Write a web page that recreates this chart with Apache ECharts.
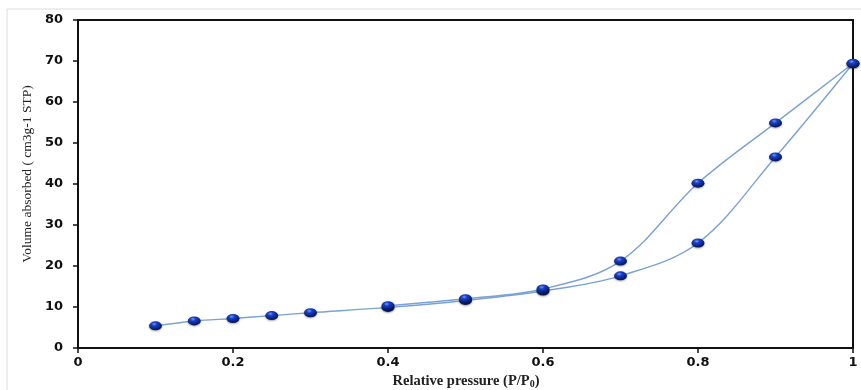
<!DOCTYPE html>
<html><head><meta charset="utf-8">
<script src="https://cdn.jsdelivr.net/npm/echarts@6/dist/echarts.min.js"></script>
<style>html,body{margin:0;padding:0;background:#fff}#c{width:861px;height:390px}</style>
</head><body><div id="c"></div>
<script>
const xTicks = [0, 0.2, 0.4, 0.6, 0.8, 1];
const yTicks = [0, 10, 20, 30, 40, 50, 60, 70, 80];
const adsorptionP = [0.1, 0.15, 0.2, 0.25, 0.3, 0.4, 0.5, 0.6, 0.7, 0.8, 0.9, 1.0];
const adsorptionV = [5.4, 6.6, 7.2, 7.9, 8.6, 9.9, 11.6, 13.9, 17.6, 25.6, 46.6, 69.4];
const desorptionP = [1.0, 0.9, 0.8, 0.7, 0.6, 0.5, 0.4];
const desorptionV = [69.4, 54.9, 40.2, 21.2, 14.4, 12.0, 10.3];
const xTitle = 'Relative pressure (P/P';
const yTitle = 'Volume absorbed ( cm3g-1 STP)';

const chart = echarts.init(document.getElementById('c'), null, {renderer: 'canvas'});
const markerColor = {
  type: 'radial', x: 0.4, y: 0.3, r: 0.7,
  colorStops: [{offset: 0, color: '#6f9cff'}, {offset: 0.3, color: '#1a3fc8'}, {offset: 1, color: '#041452'}]
};
function series(name, xs, ys) {
  return {
    name, type: 'line', smooth: 0.35,
    data: xs.map((x, i) => [x, ys[i]]),
    symbol: 'circle', symbolSize: [13, 9],
    itemStyle: {color: markerColor, borderWidth: 0, shadowColor: 'rgba(0,0,0,0.35)', shadowBlur: 2, shadowOffsetY: 1},
    lineStyle: {color: '#7aa2d4', width: 1.4},
    z: 3
  };
}
chart.setOption({
  animation: false,
  grid: {left: 78, right: 8, top: 20, bottom: 42, show: true, borderColor: '#111', borderWidth: 2, backgroundColor: 'transparent'},
  xAxis: {
    type: 'value', min: 0, max: 1, interval: 0.2,
    axisLine: {show: true, lineStyle: {color: '#111', width: 2}},
    axisTick: {show: true, length: 5, lineStyle: {color: '#111', width: 1.5}},
    splitLine: {show: false},
    axisLabel: {margin: 8, color: '#111', fontFamily: 'DejaVu Sans', fontWeight: 'bold', fontSize: 13,
      formatter: v => String(+v.toFixed(1))}
  },
  yAxis: {
    type: 'value', min: 0, max: 80, interval: 10,
    axisLine: {show: true, lineStyle: {color: '#111', width: 2}},
    axisTick: {show: true, length: 5, lineStyle: {color: '#111', width: 1.5}},
    splitLine: {show: false},
    axisLabel: {margin: 15, color: '#111', fontFamily: 'DejaVu Sans', fontWeight: 'bold', fontSize: 13}
  },
  graphic: [
    {type: 'rect', shape: {x: 7, y: 9, width: 900, height: 400}, style: {fill: 'none', stroke: '#dcdcdc', lineWidth: 1}, silent: true, z: -1},
    {type: 'text', x: 466, y: 381, style: {
      text: '{a|' + xTitle + '}{s|0}{a|)}', align: 'center', verticalAlign: 'middle',
      rich: {a: {fontFamily: 'Liberation Serif', fontWeight: 'bold', fontSize: 14.5, fill: '#222'},
             s: {fontFamily: 'Liberation Serif', fontWeight: 'bold', fontSize: 10, fill: '#222', padding: [6, 0, 0, 0]}}}},
    {type: 'text', x: 27, y: 174, rotation: Math.PI / 2, style: {
      text: yTitle, align: 'center', verticalAlign: 'middle',
      fontFamily: 'Liberation Serif', fontSize: 13.5, fill: '#222'}}
  ],
  series: [series('Adsorption', adsorptionP, adsorptionV), series('Desorption', desorptionP, desorptionV)]
});
</script></body></html>
